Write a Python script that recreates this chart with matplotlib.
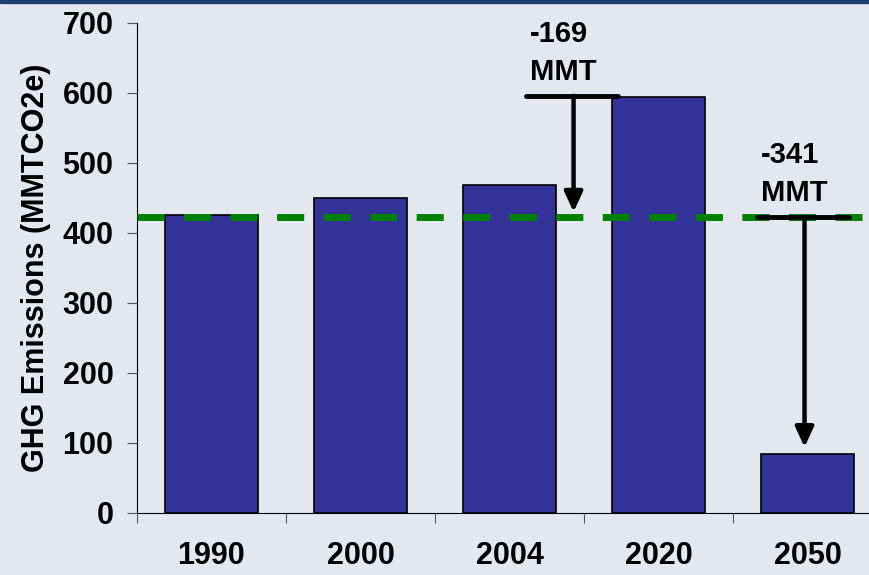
import matplotlib.pyplot as plt
from matplotlib.patches import Rectangle

plt.rcParams['font.family'] = ['Liberation Sans', 'DejaVu Sans']
plt.rcParams['font.weight'] = 'bold'

years = ['1990', '2000', '2004', '2020', '2050']
emissions = [426, 450, 469, 594, 84]
baseline = 423
cut_2020 = (2.43, 596, 430, '-169\nMMT')
cut_2050 = (3.98, 423, 94, '-341\nMMT')

bg = '#E3E8F0'
fig = plt.figure(figsize=(8.7, 5.75), dpi=100, facecolor=bg)
ax = fig.add_axes([137 / 870, 1 - 513 / 575, 1 - 137 / 870, 490 / 575])
ax.set_facecolor(bg)

xs = list(range(len(years)))
ax.bar(xs, emissions, width=0.62, color='#333399', edgecolor='black', linewidth=1.2, zorder=2)
ax.axhline(baseline, color='#008000', linewidth=5, dashes=(3.9, 2.8),
           dash_capstyle='butt', zorder=3)

for x, top, bottom, label in (cut_2020, cut_2050):
    ax.plot([x - 0.32, x + 0.3], [top, top], color='black', linewidth=3.5,
            solid_capstyle='round', zorder=4)
    ax.annotate('', xy=(x, bottom), xytext=(x, top),
                arrowprops=dict(arrowstyle='-|>,head_width=0.55,head_length=1.2',
                                color='black', linewidth=3.2, shrinkA=0, shrinkB=0),
                zorder=4)
    ax.text(x - 0.29, top + 14, label, fontsize=21, fontweight='bold',
            ha='left', va='bottom', linespacing=1.45, zorder=5)

ax.set_xlim(-0.5, -0.5 + 733 / 149)
ax.set_ylim(0, 700)
ax.set_yticks(range(0, 701, 100))
ax.set_xticks([i - 0.5 for i in range(len(years))])
ax.set_xticklabels([])
ax.set_xticks(xs, minor=True)
ax.set_xticklabels(years, minor=True, fontsize=22, fontweight='bold')
ax.tick_params(axis='x', which='minor', length=0, pad=20)
ax.tick_params(axis='x', which='major', direction='out', length=7, color='#555555')
ax.tick_params(axis='y', direction='out', length=7, color='#555555', labelsize=22, pad=10)
for lab in ax.get_yticklabels():
    lab.set_fontweight('bold')

for s in ('top', 'right'):
    ax.spines[s].set_visible(False)
ax.spines['left'].set_color('black')
ax.spines['bottom'].set_color('black')

ax.set_ylabel('GHG Emissions (MMTCO2e)', fontsize=22, fontweight='heavy', labelpad=8)

fig.add_artist(Rectangle((0, 1 - 3 / 575), 1, 3 / 575, transform=fig.transFigure,
                         color='#1F3F6F', zorder=10))

fig.savefig('out.png', dpi=100, facecolor=bg)
